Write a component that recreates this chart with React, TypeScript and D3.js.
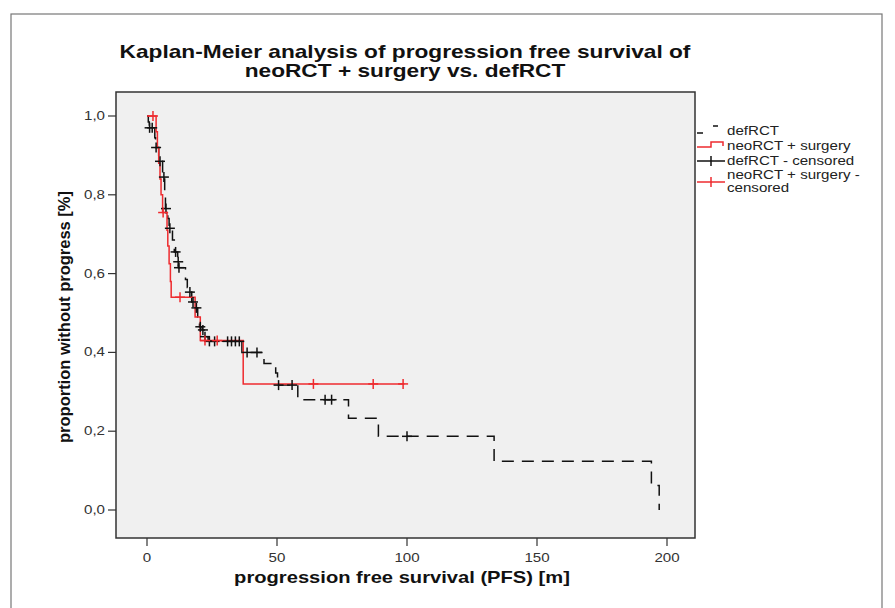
import React from "react";
import * as d3 from "d3";

// defRCT: event times [m] and survival after each step
const defTimes = [0.5, 0.9, 3.0, 3.3, 4.5, 6.0, 6.8, 7.1, 8.0, 8.5, 9.8, 10.5, 11.8, 12.1, 14.8, 15.5, 16.2, 17.2, 18.5, 19.5, 20.2, 21.2, 22.0, 23.5, 36.5, 45, 49.5, 50.2, 58, 77.5, 89, 133.5, 194, 197];
const defSurv = [0.985, 0.97, 0.945, 0.92, 0.885, 0.845, 0.805, 0.765, 0.74, 0.715, 0.685, 0.655, 0.63, 0.615, 0.585, 0.565, 0.553, 0.528, 0.513, 0.49, 0.465, 0.457, 0.44, 0.428, 0.4, 0.372, 0.348, 0.317, 0.28, 0.233, 0.187, 0.124, 0.062, 0];
const defCensored = [1.0, 2.0, 3.5, 5.0, 6.5, 7.3, 8.8, 11, 12.0, 12.3, 16.5, 17.7, 19, 20.5, 21.5, 22.3, 24, 26, 31, 32.5, 34, 35.5, 38.5, 42.3, 50.6, 55.8, 68.5, 71, 100];
const defEnd = 197;

// neoRCT + surgery
const neoTimes = [3.5, 4.0, 4.5, 5.0, 5.4, 6.0, 7.7, 8.0, 8.5, 9.0, 9.3, 18.5, 20.5, 37];
const neoSurv = [0.96, 0.92, 0.88, 0.84, 0.8, 0.755, 0.71, 0.67, 0.625, 0.58, 0.54, 0.49, 0.43, 0.32];
const neoCensored = [2.3, 6.2, 12.7, 22.3, 27, 64, 87, 98.5];
const neoEnd = 99;

const xTicks = [0, 50, 100, 150, 200];
const yTicks = [0, 0.2, 0.4, 0.6, 0.8, 1.0];

const legendLabels = ["defRCT", "neoRCT + surgery", "defRCT - censored", "neoRCT + surgery -", "censored"];

const frame = { left: 116, top: 92, right: 695, bottom: 538 };
const red = "#ee2b2f";
const font = "'Liberation Sans', Arial, sans-serif";
// the source text is a bit wider than Arial
const sx = 1.26;

const x = d3.scaleLinear().domain([0, 200]).range([147, 667]);
const y = d3.scaleLinear().domain([0, 1]).range([510, 116]);

function survAt(times: number[], surv: number[], t: number) {
  let s = 1;
  for (let i = 0; i < times.length; i++) if (times[i] <= t) s = surv[i];
  return s;
}

function kmPoints(times: number[], surv: number[], end: number): [number, number][] {
  const pts: [number, number][] = [[0, 1]];
  times.forEach((t, i) => pts.push([t, surv[i]]));
  pts.push([end, survAt(times, surv, end)]);
  return pts;
}

const line = d3
  .line<[number, number]>()
  .x((d) => x(d[0]))
  .y((d) => y(d[1]))
  .curve(d3.curveStepAfter);

const fmt = (v: number) => d3.format(".1f")(v).replace(".", ",");

function T(props: { x: number; y: number; size: number; bold?: boolean; anchor?: string; fill?: string; children: React.ReactNode }) {
  return (
    <text
      transform={`translate(${props.x},${props.y}) scale(${sx},1)`}
      textAnchor={props.anchor || "start"}
      fontFamily={font}
      fontSize={props.size}
      fontWeight={props.bold ? "bold" : "normal"}
      fill={props.fill || "#222"}
    >
      {props.children}
    </text>
  );
}

function Marks({ times, surv, cens, color }: { times: number[]; surv: number[]; cens: number[]; color: string }) {
  return (
    <g stroke={color} strokeWidth={1.5}>
      {cens.map((t, i) => {
        const cx = x(t);
        const cy = y(survAt(times, surv, t));
        return (
          <g key={i}>
            <line x1={cx - 5} x2={cx + 5} y1={cy} y2={cy} />
            <line x1={cx} x2={cx} y1={cy - 5} y2={cy + 5} />
          </g>
        );
      })}
    </g>
  );
}

export default function App() {
  const defPath = line(kmPoints(defTimes, defSurv, defEnd)) || "";
  const neoPath = line(kmPoints(neoTimes, neoSurv, neoEnd)) || "";
  const lx = 697;

  return (
    <div style={{ position: "fixed", left: 0, top: 0 }}>
      <svg width={895} height={608} style={{ display: "block", background: "#fff" }}>
        {/* outer border */}
        <rect x={11} y={14} width={871} height={640} fill="none" stroke="#777" strokeWidth={1.2} />

        <T x={405} y={58} size={18} bold anchor="middle" fill="#111">
          Kaplan-Meier analysis of progression free survival of
        </T>
        <T x={405} y={77} size={18} bold anchor="middle" fill="#111">
          neoRCT + surgery vs. defRCT
        </T>

        <rect
          x={frame.left}
          y={frame.top}
          width={frame.right - frame.left}
          height={frame.bottom - frame.top}
          fill="#f0f0f0"
          stroke="#333"
          strokeWidth={1.5}
        />

        {/* y axis */}
        {yTicks.map((v) => (
          <g key={v}>
            <line x1={frame.left - 8} x2={frame.left} y1={y(v)} y2={y(v)} stroke="#333" strokeWidth={1.2} />
            <T x={frame.left - 11} y={y(v) + 4} size={12} anchor="end" fill="#333">
              {fmt(v)}
            </T>
          </g>
        ))}
        {/* x axis */}
        {xTicks.map((v) => (
          <g key={v}>
            <line x1={x(v)} x2={x(v)} y1={frame.bottom} y2={frame.bottom + 8} stroke="#333" strokeWidth={1.2} />
            <T x={x(v)} y={frame.bottom + 24} size={12} anchor="middle" fill="#333">
              {v}
            </T>
          </g>
        ))}

        <T x={402} y={583} size={16} bold anchor="middle" fill="#111">
          progression free survival (PFS) [m]
        </T>
        <text
          transform={`translate(70,${(frame.top + frame.bottom) / 2 + 2}) rotate(-90)`}
          textAnchor="middle"
          fontFamily={font}
          fontWeight="bold"
          fontSize={16.5}
          fill="#111"
        >
          proportion without progress [%]
        </text>

        {/* curves */}
        <path d={defPath} fill="none" stroke="#111" strokeWidth={1.5} strokeDasharray="12,8" />
        <path d={neoPath} fill="none" stroke={red} strokeWidth={1.5} />
        <Marks times={defTimes} surv={defSurv} cens={defCensored} color="#111" />
        <Marks times={neoTimes} surv={neoSurv} cens={neoCensored} color={red} />

        {/* legend */}
        <g>
          <line x1={lx} x2={lx + 6} y1={133} y2={133} stroke="#111" strokeWidth={1.5} />
          <line x1={lx + 16} x2={lx + 21} y1={126} y2={126} stroke="#111" strokeWidth={1.5} />
          <T x={727} y={135} size={12}>{legendLabels[0]}</T>

          <path d={`M${lx},147H${lx + 14}V142H${lx + 26}V146`} fill="none" stroke={red} strokeWidth={1.5} />
          <T x={727} y={150} size={12}>{legendLabels[1]}</T>

          <line x1={lx} x2={lx + 28} y1={161} y2={161} stroke="#111" strokeWidth={1.5} />
          <line x1={lx + 14} x2={lx + 14} y1={156} y2={166} stroke="#111" strokeWidth={1.5} />
          <T x={727} y={165} size={12}>{legendLabels[2]}</T>

          <line x1={lx} x2={lx + 28} y1={182} y2={182} stroke={red} strokeWidth={1.5} />
          <line x1={lx + 14} x2={lx + 14} y1={177} y2={187} stroke={red} strokeWidth={1.5} />
          <T x={727} y={179} size={12}>{legendLabels[3]}</T>
          <T x={727} y={192} size={12}>{legendLabels[4]}</T>
        </g>
      </svg>
    </div>
  );
}
